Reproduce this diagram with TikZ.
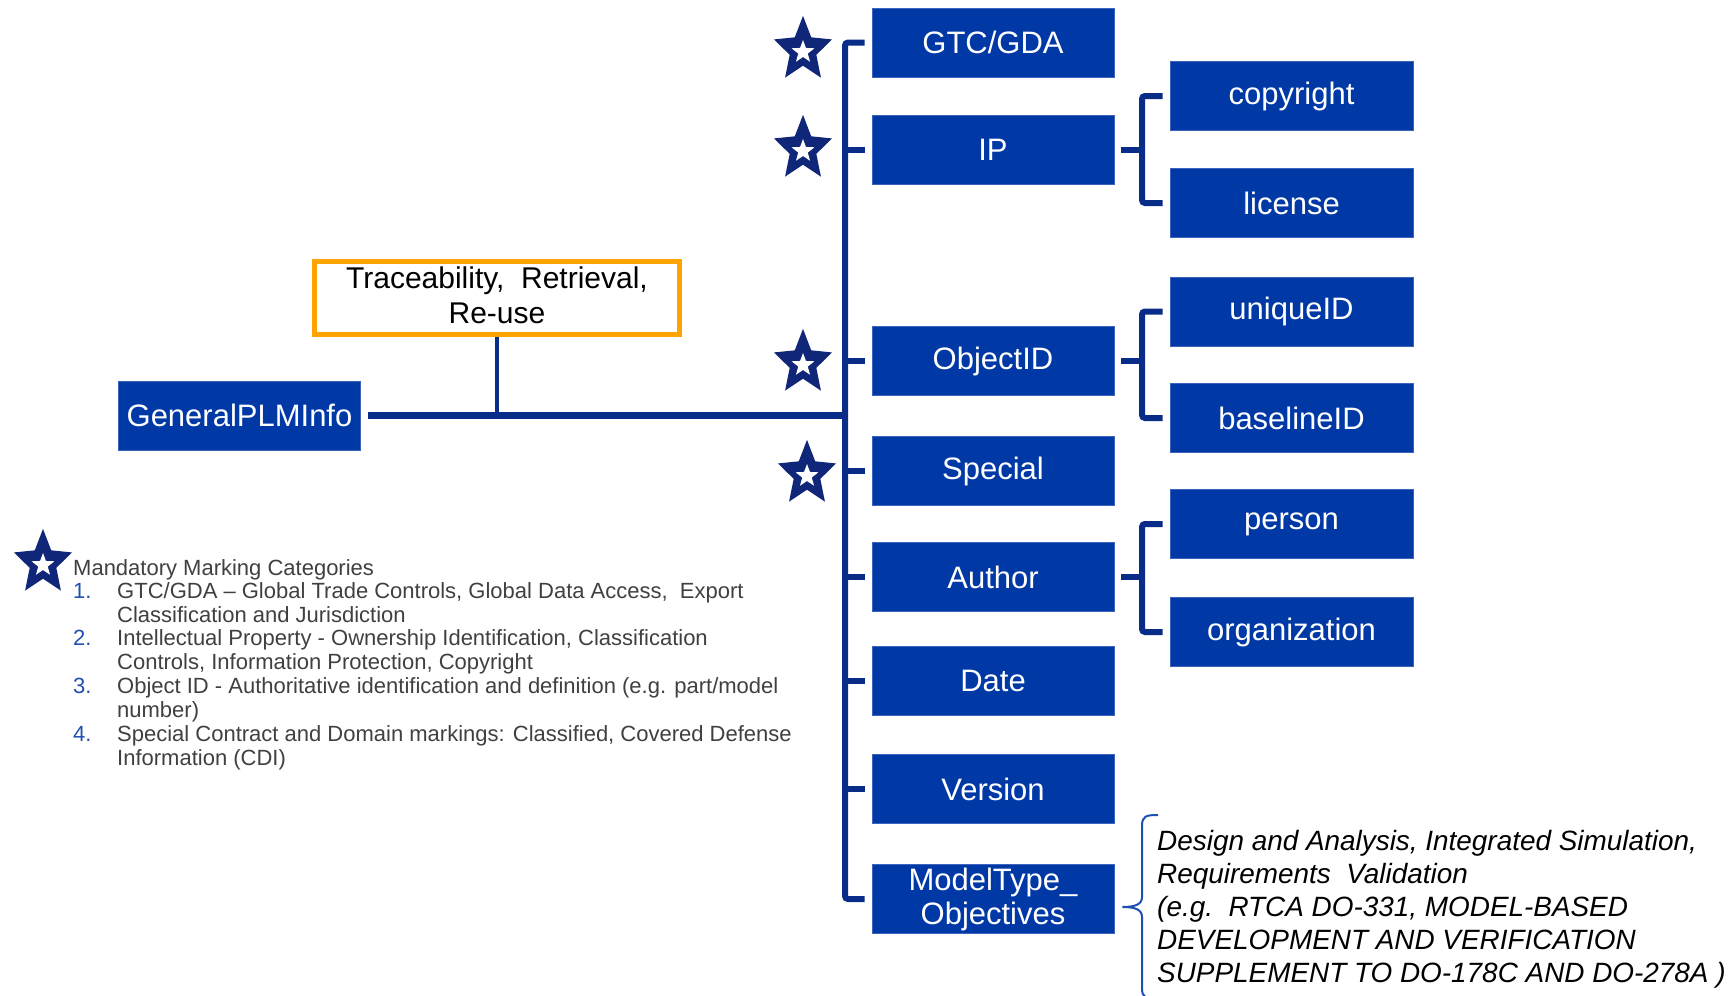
\documentclass[tikz,border=0pt]{standalone}
\usepackage{fontspec}
\setmainfont{Liberation Sans}
\usetikzlibrary{calc}
\definecolor{boxblue}{RGB}{0,57,166}
\definecolor{boxedge}{RGB}{60,100,190}
\definecolor{linenavy}{RGB}{8,44,135}
\definecolor{starnavy}{RGB}{16,38,120}
\definecolor{bracecol}{RGB}{30,80,180}
\definecolor{traceorange}{RGB}{255,163,0}
\definecolor{legendgray}{RGB}{64,64,64}
\definecolor{numblue}{RGB}{32,80,176}
\tikzset{
  blk/.style={rectangle, fill=boxblue, draw=boxedge, line width=0.8pt, text=white,
    minimum width=242pt, minimum height=69pt, inner sep=0pt,
    font=\fontsize{31}{34}\selectfont, align=center},
  bus/.style={draw=linenavy, line width=6pt},
  mainln/.style={draw=linenavy, line width=7pt},
  brc/.style={draw=bracecol, line width=2pt},
  legtxt/.style={anchor=base west, inner sep=0pt, text=legendgray, font=\fontsize{22}{24}\selectfont},
  legnum/.style={anchor=base west, inner sep=0pt, text=numblue, font=\fontsize{22}{24}\selectfont},
  mtxt/.style={anchor=base west, inner sep=0pt, text=black, font=\fontsize{27.9}{33}\selectfont\itshape},
  markstar/.pic={
    \fill[starnavy, yscale=1.12] (90:30.5pt) -- (126:14pt) -- (162:30.5pt) -- (198:14pt)
      -- (234:30.5pt) -- (270:14pt) -- (306:30.5pt) -- (342:14pt) -- (18:30.5pt) -- (54:14pt) -- cycle;
    \fill[white, yshift=-2pt] (90:12pt) -- (126:5pt) -- (162:12pt) -- (198:5pt)
      -- (234:12pt) -- (270:5pt) -- (306:12pt) -- (342:5pt) -- (18:12pt) -- (54:5pt) -- cycle;
  }
}
\begin{document}
\begin{tikzpicture}[x=1pt,y=-1pt]
\useasboundingbox[fill=white] (0,0) rectangle (1735,996);

% left part
\node[blk] (gen) at (239.5,415.5) {GeneralPLMInfo};
\node[rectangle, draw=traceorange, line width=5pt, minimum width=365pt, minimum height=73pt,
  inner sep=0pt, align=center, font=\fontsize{30}{35}\selectfont] (trace) at (497,298) {};
\node[inner sep=0pt, align=center, font=\fontsize{30}{35}\selectfont] (tracetxt) at (497,295)
  {Traceability,\ \ Retrieval,\\Re-use};

% middle column
\node[blk] (gtc) at (993,42.5) {GTC/GDA};
\node[blk] (ip)  at (993,150) {IP};
\node[blk] (oid) at (993,361) {ObjectID};
\node[blk] (spc) at (993,471) {Special};
\node[blk] (aut) at (993,577) {Author};
\node[blk] (dat) at (993,681) {Date};
\node[blk] (ver) at (993,789) {Version};
\node[blk, font=\fontsize{31}{34}\selectfont] (mto) at (993,899) {ModelType\_\\Objectives};

% right column
\node[blk, minimum width=243pt] (cop) at (1291.5,96) {copyright};
\node[blk, minimum width=243pt] (lic) at (1291.5,203) {license};
\node[blk, minimum width=243pt] (uid) at (1291.5,311.5) {uniqueID};
\node[blk, minimum width=243pt] (bid) at (1291.5,418) {baselineID};
\node[blk, minimum width=243pt] (per) at (1291.5,524) {person};
\node[blk, minimum width=243pt] (org) at (1291.5,632) {organization};

\coordinate (busx) at (845,0);
\coordinate (subx) at (1142,0);

% main bus
\draw[bus, rounded corners=3pt] ($(gtc.west)+(-7,0)$) -- (gtc.west -| busx) -- (mto.west -| busx) -- ($(mto.west)+(-7,0)$);
\foreach \n in {ip,oid,spc,aut,dat,ver}{
  \draw[bus] (\n.west -| busx) -- ($(\n.west)+(-7,0)$);
}
\draw[mainln] ($(gen.east)+(7,0)$) -- (gen.east -| busx);
\draw[draw=linenavy, line width=4.5pt] (trace.south) -- (trace.south |- gen.east);

% sub brackets
\draw[bus, rounded corners=3pt] ($(cop.west)+(-7,0)$) -- (cop.west -| subx) -- (lic.west -| subx) -- ($(lic.west)+(-7,0)$);
\draw[bus] ($(ip.east)+(7,0)$) -- (ip.east -| subx);
\draw[bus, rounded corners=3pt] ($(uid.west)+(-7,0)$) -- (uid.west -| subx) -- (bid.west -| subx) -- ($(bid.west)+(-7,0)$);
\draw[bus] ($(oid.east)+(7,0)$) -- (oid.east -| subx);
\draw[bus, rounded corners=3pt] ($(per.west)+(-7,0)$) -- (per.west -| subx) -- (org.west -| subx) -- ($(org.west)+(-7,0)$);
\draw[bus] ($(aut.east)+(7,0)$) -- (aut.east -| subx);

% stars
\pic at (803,50) {markstar};
\pic at (803,149) {markstar};
\pic at (803,363) {markstar};
\pic at (807,474) {markstar};
\pic at (43,563) {markstar};

% legend
\node[legtxt] (lg0) at (73,575) {Mandatory Marking Categories};
\node[legnum] (n1) at (73,598.5) {1.};
\node[legtxt] (l1a) at (117,598.5) {GTC/GDA -- Global Trade Controls, Global Data Access,\ \ Export};
\node[legtxt] (l1b) at (117,622) {Classification and Jurisdiction};
\node[legnum] (n2) at (73,645.5) {2.};
\node[legtxt] (l2a) at (117,645.5) {Intellectual Property - Ownership Identification, Classification};
\node[legtxt] (l2b) at (117,669) {Controls, Information Protection, Copyright};
\node[legnum] (n3) at (73,693) {3.};
\node[legtxt] (l3a) at (117,693) {Object ID - Authoritative identification and definition (e.g. part/model};
\node[legtxt] (l3b) at (117,717) {number)};
\node[legnum] (n4) at (73,741.5) {4.};
\node[legtxt] (l4a) at (117,741.5) {Special Contract and Domain markings: Classified, Covered Defense};
\node[legtxt] (l4b) at (117,765) {Information (CDI)};

% brace and model type text
\coordinate (btip) at ($(mto.east)+(8,8)$);
\draw[brc] (1158,815) .. controls (1146,815) and (1142,816) .. (1142,826) -- (1142,897)
  .. controls (1142,904) and (1136,907) .. (btip)
  .. controls (1136,907) and (1142,910) .. (1142,917) -- (1142,988)
  .. controls (1142,998) and (1146,999) .. (1158,999);
\node[mtxt] (m1) at (1157,850) {Design and Analysis, Integrated Simulation,};
\node[mtxt] (m2) at (1157,883) {Requirements\ \ Validation};
\node[mtxt] (m3) at (1157,916) {(e.g.\ \ RTCA DO-331, MODEL-BASED};
\node[mtxt] (m4) at (1157,949) {DEVELOPMENT AND VERIFICATION};
\node[mtxt] (m5) at (1157,982) {SUPPLEMENT TO DO-178C AND DO-278A )};
\end{tikzpicture}
\end{document}
